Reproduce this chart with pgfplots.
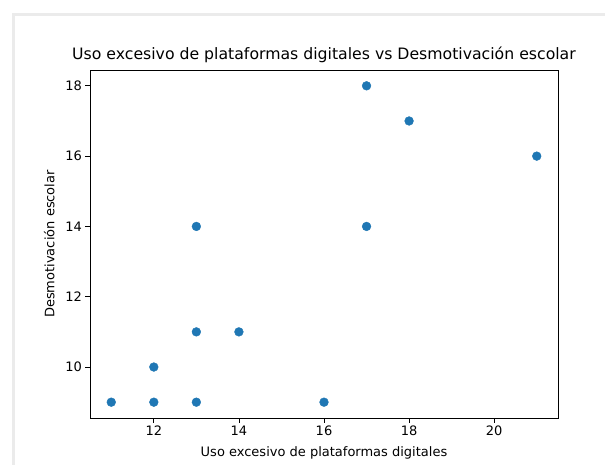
\documentclass[border=0pt]{standalone}
\usepackage{fontspec}
\setmainfont{DejaVu Sans}
\usepackage{pgfplots}
\pgfplotsset{compat=1.18}
\definecolor{mplblue}{HTML}{1F77B4}
\definecolor{framegrey}{HTML}{EBEBEB}
\begin{document}
\begin{tikzpicture}
\useasboundingbox[fill=white] (0pt,0pt) rectangle (605pt,465pt);
\fill[framegrey] (12pt,0pt) rectangle (15pt,449pt);
\fill[framegrey] (12pt,449pt) rectangle (605pt,452pt);
\begin{axis}[
  at={(90pt,47pt)}, anchor=south west,
  scale only axis, width=468pt, height=348pt,
  xmin=10.5, xmax=21.5, ymin=8.55, ymax=18.45,
  xtick={12,14,16,18,20}, ytick={10,12,14,16,18},
  tick align=outside, tick pos=left,
  major tick length=4.6pt,
  every tick/.style={black, line width=0.8pt},
  axis line style={line width=0.8pt},
  /pgf/number format/assume math mode=true,
  ticklabel style={font=\fontsize{13}{15}\selectfont},
  title={Uso excesivo de plataformas digitales vs Desmotivación escolar},
  title style={font=\fontsize{15.7}{18}\selectfont, yshift=-2pt},
  xlabel={Uso excesivo de plataformas digitales},
  ylabel={Desmotivación escolar},
  label style={font=\fontsize{13}{15}\selectfont},
  xlabel style={yshift=-4pt},
  ylabel style={yshift=4pt},
]
\addplot[only marks, mark=*, mark size=4.4pt, color=mplblue] coordinates {
(11,9) (12,9) (12,10) (13,9) (13,11) (13,14) (14,11) (16,9) (17,14) (17,18) (18,17) (21,16)
};
\end{axis}
\end{tikzpicture}
\end{document}
